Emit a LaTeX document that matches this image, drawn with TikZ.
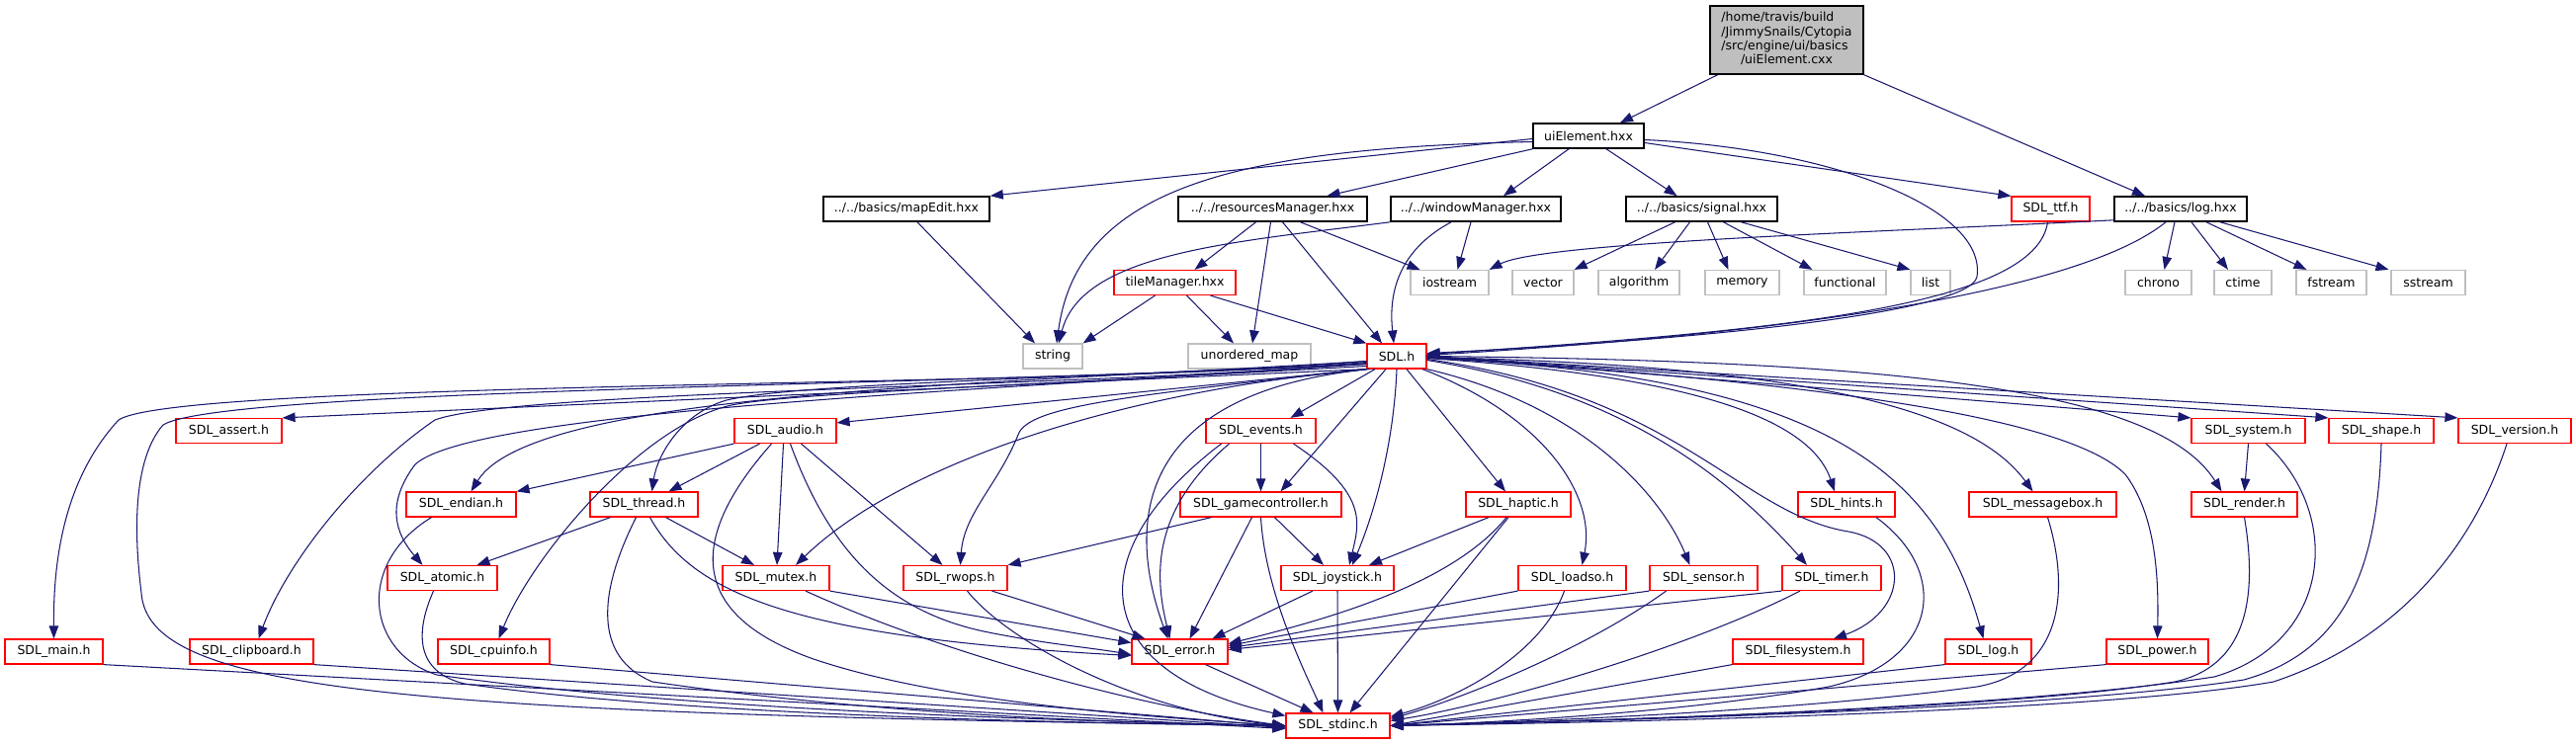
\documentclass[tikz,border=0pt]{standalone}
\usepackage{fontspec}
\setmainfont{DejaVu Sans}
\usetikzlibrary{arrows.meta}
\definecolor{edgeblue}{HTML}{191970}
\definecolor{leafgray}{HTML}{BFBFBF}
\begin{document}
\begin{tikzpicture}[x=1pt,y=-1pt,
  nd/.style={draw=black,line width=1.6pt,fill=white,minimum height=25pt,inner sep=0pt,font=\fontsize{12.5}{14.3}\selectfont},
  rd/.style={nd,draw=red,line width=1.2pt},
  gy/.style={nd,draw=leafgray,line width=1.2pt},
  inc/.style={draw=edgeblue,line width=1.05pt,-{Triangle[length=13pt,width=9.5pt]}}]
\fill[white] (0,0) rectangle (2606,753);
\useasboundingbox (0,0) rectangle (2606,753);
% nodes
\node[nd,fill=leafgray,minimum width=155pt,minimum height=69pt] (top) at (1807.5,40.5) {\begin{tabular}{@{}l@{}}/home/travis/build\\/JimmySnails/Cytopia\\/src/engine/ui/basics\\\multicolumn{1}{@{}c@{}}{/uiElement.cxx}\end{tabular}};
\node[nd,minimum width=112pt] (uiE) at (1607,137.5) {uiElement.hxx};
\node[nd,minimum width=168pt] (mapE) at (917,211.5) {../../basics/mapEdit.hxx};
\node[nd,minimum width=191pt] (resM) at (1287.5,211.5) {../../resourcesManager.hxx};
\node[nd,minimum width=172pt] (winM) at (1493,211.5) {../../windowManager.hxx};
\node[nd,minimum width=153pt] (sig) at (1721.5,211.5) {../../basics/signal.hxx};
\node[rd,minimum width=79pt] (ttf) at (2074.5,211.5) {SDL\_ttf.h};
\node[nd,minimum width=134pt] (logx) at (2206,211.5) {../../basics/log.hxx};
\node[rd,minimum width=123pt] (tileM) at (1188.5,286) {tileManager.hxx};
\node[gy,minimum width=79pt] (iost) at (1466.5,286) {iostream};
\node[gy,minimum width=62pt] (vect) at (1561,286) {vector};
\node[gy,minimum width=82pt] (algo) at (1658,286) {algorithm};
\node[gy,minimum width=75pt] (memo) at (1762.5,286) {memory};
\node[gy,minimum width=83pt] (func) at (1866.5,286) {functional};
\node[gy,minimum width=40pt] (lst) at (1953,286) {list};
\node[gy,minimum width=67pt] (chro) at (2183.5,286) {chrono};
\node[gy,minimum width=58pt] (ctim) at (2269,286) {ctime};
\node[gy,minimum width=71pt] (fstr) at (2358.5,286) {fstream};
\node[gy,minimum width=75pt] (sstr) at (2456.5,286) {sstream};
\node[gy,minimum width=60pt] (strg) at (1065,360.5) {string};
\node[gy,minimum width=124pt] (umap) at (1264,360.5) {unordered\_map};
\node[rd,minimum width=60pt] (sdl) at (1413,360.5) {SDL.h};
\node[rd,minimum width=107pt] (asrt) at (231.5,436) {SDL\_assert.h};
\node[rd,minimum width=103pt] (audio) at (794.5,436) {SDL\_audio.h};
\node[rd,minimum width=111pt] (evts) at (1275.5,436) {SDL\_events.h};
\node[rd,minimum width=115pt] (syst) at (2274.5,436) {SDL\_system.h};
\node[rd,minimum width=106pt] (shpe) at (2409,436) {SDL\_shape.h};
\node[rd,minimum width=114pt] (vers) at (2544,436) {SDL\_version.h};
\node[rd,minimum width=111pt] (endn) at (466.5,510.5) {SDL\_endian.h};
\node[rd,minimum width=109pt] (thrd) at (651.5,510.5) {SDL\_thread.h};
\node[rd,minimum width=163pt] (gctl) at (1275.5,510.5) {SDL\_gamecontroller.h};
\node[rd,minimum width=106pt] (hapt) at (1536,510.5) {SDL\_haptic.h};
\node[rd,minimum width=98pt] (hint) at (1868,510.5) {SDL\_hints.h};
\node[rd,minimum width=149pt] (mbox) at (2066.5,510.5) {SDL\_messagebox.h};
\node[rd,minimum width=107pt] (rend) at (2270.5,510.5) {SDL\_render.h};
\node[rd,minimum width=111pt] (atom) at (447.5,585) {SDL\_atomic.h};
\node[rd,minimum width=108pt] (mutx) at (785,585) {SDL\_mutex.h};
\node[rd,minimum width=105pt] (rwop) at (966.5,585) {SDL\_rwops.h};
\node[rd,minimum width=114pt] (joys) at (1353,585) {SDL\_joystick.h};
\node[rd,minimum width=109pt] (lodso) at (1590.5,585) {SDL\_loadso.h};
\node[rd,minimum width=109pt] (sens) at (1723.5,585) {SDL\_sensor.h};
\node[rd,minimum width=100pt] (timr) at (1853,585) {SDL\_timer.h};
\node[rd,minimum width=99pt] (mainh) at (54.5,659.5) {SDL\_main.h};
\node[rd,minimum width=125pt] (clip) at (254.5,659.5) {SDL\_clipboard.h};
\node[rd,minimum width=113pt] (cpui) at (499.5,659.5) {SDL\_cpuinfo.h};
\node[rd,minimum width=97pt] (err) at (1193.5,659.5) {SDL\_error.h};
\node[rd,minimum width=132pt] (fsys) at (1819,659.5) {SDL\_filesystem.h};
\node[rd,minimum width=87pt] (slog) at (2011.5,659.5) {SDL\_log.h};
\node[rd,minimum width=103pt] (powr) at (2182.5,659.5) {SDL\_power.h};
\node[rd,minimum width=105pt] (stdc) at (1353.5,734.5) {SDL\_stdinc.h};
% top edges
\draw[inc] ([xshift=-70pt]top.south) -- ([xshift=32pt]uiE.north);
\draw[inc] (top.south east) -- ([xshift=-36pt]logx.north);
% uiElement.hxx
\draw[inc] ([yshift=-3pt]uiE.west) -- (mapE.north east);
\draw[inc] ([yshift=-6pt]uiE.west) .. controls (1250,150) and (1090,190) .. ([xshift=4pt]strg.north);
\draw[inc] (uiE.south west) -- ([xshift=55pt]resM.north);
\draw[inc] ([xshift=-20pt]uiE.south) -- ([xshift=28pt]winM.north);
\draw[inc] ([xshift=18pt]uiE.south) -- ([xshift=-25pt]sig.north);
\draw[inc] ([yshift=-7pt]uiE.east) -- (ttf.north west);
\draw[inc] ([yshift=-4pt]uiE.east) .. controls (1850,150) and (2010,210) .. (2000,280) .. controls (1993,318) and (1700,345) .. ([yshift=3pt]sdl.east);
% ttf, log
\draw[inc] ([xshift=-3pt]ttf.south) .. controls (2060,310) and (1800,335) .. ([yshift=2pt]sdl.east);
\draw[inc] ([xshift=-15pt]logx.south) .. controls (2110,290) and (1850,335) .. ([yshift=1pt]sdl.east);
\draw[inc] ([yshift=2pt]logx.south west) .. controls (1900,235) and (1560,245) .. (iost.north east);
\draw[inc] ([xshift=-6pt]logx.south) -- ([xshift=6pt]chro.north);
\draw[inc] ([xshift=11pt]logx.south) -- ([xshift=-15pt]ctim.north);
\draw[inc] ([xshift=26pt]logx.south) -- ([xshift=-25pt]fstr.north);
\draw[inc] ([xshift=40pt]logx.south) -- ([xshift=-40pt]sstr.north);
% windowManager
\draw[inc] ([xshift=-5pt]winM.south) -- ([xshift=8pt]iost.north);
\draw[inc] ([xshift=-25pt]winM.south) .. controls (1412,255) and (1405,300) .. ([xshift=-3pt]sdl.north);
\draw[inc] (winM.south west) .. controls (1250,245) and (1095,255) .. ([xshift=6pt]strg.north);
% resourcesManager
\draw[inc] ([xshift=-17pt]resM.south) -- ([xshift=20pt]tileM.north);
\draw[inc] ([xshift=-2pt]resM.south) -- ([xshift=3pt]umap.north);
\draw[inc] ([xshift=10pt]resM.south) -- ([xshift=-15pt]sdl.north);
\draw[inc] ([xshift=28pt]resM.south) -- ([xshift=-30pt]iost.north);
% tileManager, mapEdit
\draw[inc] ([xshift=-20pt]tileM.south) -- (strg.north east);
\draw[inc] ([xshift=12pt]tileM.south) -- ([xshift=-16pt]umap.north);
\draw[inc] ([xshift=36pt]tileM.south) -- (sdl.north west);
\draw[inc] ([xshift=11pt]mapE.south) -- ([xshift=-18pt]strg.north);
% signal
\draw[inc] ([xshift=-27pt]sig.south) -- (vect.north east);
\draw[inc] ([xshift=-12pt]sig.south) -- ([xshift=16pt]algo.north);
\draw[inc] ([xshift=6pt]sig.south) -- ([xshift=-14pt]memo.north);
\draw[inc] ([xshift=22pt]sig.south) -- ([xshift=-33pt]func.north);
\draw[inc] ([xshift=40pt]sig.south) -- (lst.north west);
% SDL.h to the left
\draw[inc] (sdl.south west) -- (asrt.north east);
\draw[inc] (sdl.south west) -- ([yshift=-5pt]audio.north east);
\draw[inc] ([yshift=-6pt]sdl.west) .. controls (1100,392) and (180,385) .. (120,425) .. controls (60,490) and (54,580) .. (mainh.north);
\draw[inc] ([yshift=-5pt]sdl.west) .. controls (1100,390) and (230,390) .. (165,430) .. controls (130,470) and (138,560) .. (143,600) .. controls (150,700) and (400,722) .. (stdc.west);
\draw[inc] ([yshift=-7pt]sdl.west) .. controls (1100,392) and (520,395) .. (440,425) .. controls (360,480) and (290,570) .. ([xshift=7pt]clip.north);
\draw[inc] ([yshift=-5pt]sdl.west) .. controls (1000,390) and (540,395) .. ([xshift=10pt]endn.north);
\draw[inc] ([yshift=-8pt]sdl.west) .. controls (1000,395) and (480,415) .. (420,470) .. controls (390,510) and (400,540) .. ([xshift=-20pt]atom.north);
\draw[inc] ([yshift=-8pt]sdl.west) .. controls (1000,385) and (800,390) .. (735,405) .. controls (690,418) and (665,460) .. ([xshift=8pt]thrd.north);
\draw[inc] ([yshift=-10pt]sdl.west) .. controls (1000,392) and (800,398) .. (740,410) .. controls (650,430) and (540,560) .. ([xshift=5pt]cpui.north);
\draw[inc] (sdl.south west) .. controls (1100,400) and (900,480) .. ([xshift=20pt]mutx.north);
\draw[inc] (sdl.south west) .. controls (1150,400) and (1040,410) .. (1030,440) .. controls (1010,490) and (975,520) .. ([xshift=5pt]rwop.north);
\draw[inc] ([xshift=3pt]sdl.south west) .. controls (1120,400) and (1150,560) .. ([xshift=-12pt]err.north);
% SDL.h downwards
\draw[inc] ([xshift=-22pt]sdl.south) -- ([xshift=30pt]evts.north);
\draw[inc] ([xshift=-11pt]sdl.south) -- ([xshift=20pt]gctl.north);
\draw[inc] (sdl.south) .. controls (1410,450) and (1390,520) .. ([xshift=15pt]joys.north);
\draw[inc] ([xshift=10pt]sdl.south) -- ([xshift=-13pt]hapt.north);
\draw[inc] ([xshift=26pt]sdl.south) .. controls (1560,420) and (1615,500) .. ([xshift=10pt]lodso.north);
\draw[inc] (sdl.south east) .. controls (1600,410) and (1680,500) .. ([xshift=-14pt]sens.north);
% SDL.h to the right
\draw[inc] ([yshift=-4pt]sdl.east) .. controls (1600,390) and (1720,450) .. ([xshift=-25pt]timr.north);
\draw[inc] ([yshift=-3pt]sdl.east) .. controls (1700,400) and (1760,520) .. (1870,538) .. controls (1935,550) and (1930,620) .. ([xshift=36pt]fsys.north);
\draw[inc] ([yshift=-2pt]sdl.east) .. controls (1850,380) and (1960,480) .. ([xshift=-5pt]slog.north);
\draw[inc] ([yshift=-2pt]sdl.east) .. controls (1700,380) and (1830,420) .. ([xshift=-12pt]hint.north);
\draw[inc] ([yshift=-1pt]sdl.east) .. controls (1850,370) and (2000,420) .. ([xshift=-10pt]mbox.north);
\draw[inc] ([yshift=-1pt]sdl.east) .. controls (1900,390) and (2100,430) .. (2150,480) .. controls (2180,520) and (2184,580) .. (powr.north);
\draw[inc] (sdl.east) .. controls (1900,365) and (2180,390) .. ([xshift=-23pt]rend.north);
\draw[inc] (sdl.east) -- (syst.north west);
\draw[inc] (sdl.east) -- (shpe.north west);
\draw[inc] (sdl.east) -- (vers.north west);
% audio
\draw[inc] (audio.south west) -- (endn.north east);
\draw[inc] ([xshift=-26pt]audio.south) -- ([xshift=25pt]thrd.north);
\draw[inc] ([xshift=-2pt]audio.south) -- ([xshift=1pt]mutx.north);
\draw[inc] ([xshift=16pt]audio.south) -- ([xshift=-13pt]rwop.north);
\draw[inc] ([xshift=-14pt]audio.south) .. controls (700,540) and (690,620) .. (823,667) .. controls (950,710) and (1150,725) .. (stdc.west);
\draw[inc] ([xshift=5pt]audio.south) .. controls (840,560) and (900,620) .. (1000,640) .. controls (1060,652) and (1100,655) .. ([yshift=-3pt]err.west);
% endian, thread, atomic
\draw[inc] ([xshift=-30pt]endn.south) .. controls (360,570) and (370,660) .. (442,683) .. controls (700,720) and (1100,730) .. (stdc.west);
\draw[inc] ([xshift=-34pt]thrd.south) -- ([xshift=35pt]atom.north);
\draw[inc] ([xshift=22pt]thrd.south) -- ([xshift=-22pt]mutx.north);
\draw[inc] ([xshift=6pt]thrd.south) .. controls (700,600) and (800,645) .. ([yshift=-4pt]err.west);
\draw[inc] ([xshift=-8pt]thrd.south) .. controls (605,600) and (600,665) .. (660,690) .. controls (900,725) and (1150,732) .. (stdc.west);
\draw[inc] ([xshift=-9pt]atom.south) .. controls (420,640) and (420,680) .. (470,692) .. controls (700,725) and (1100,732) .. (stdc.west);
% mutex, rwops
\draw[inc] (mutx.south east) -- ([yshift=9pt]err.west);
\draw[inc] ([xshift=30pt]mutx.south) .. controls (950,660) and (1150,715) .. (stdc.west);
\draw[inc] ([xshift=37pt]rwop.south) -- ([xshift=-35pt]err.north);
\draw[inc] ([xshift=12pt]rwop.south) .. controls (1020,650) and (1150,720) .. (stdc.west);
% events, gamecontroller
\draw[inc] (evts.south) -- (gctl.north);
\draw[inc] ([xshift=33pt]evts.south) .. controls (1385,500) and (1375,530) .. ([xshift=12pt]joys.north);
\draw[inc] ([xshift=-32pt]evts.south) .. controls (1160,520) and (1170,590) .. ([xshift=-10pt]err.north);
\draw[inc] ([xshift=-40pt]evts.south) .. controls (1090,560) and (1100,680) .. ([yshift=-3pt]stdc.north west);
\draw[inc] ([xshift=-50pt]gctl.south) -- (rwop.north east);
\draw[inc] ([xshift=14pt]gctl.south) -- ([xshift=-14pt]joys.north);
\draw[inc] ([xshift=-9pt]gctl.south) -- ([xshift=10pt]err.north);
\draw[inc] (gctl.south) .. controls (1280,600) and (1320,680) .. ([xshift=-15pt]stdc.north);
% haptic, joystick
\draw[inc] ([xshift=-30pt]hapt.south) -- ([xshift=32pt]joys.north);
\draw[inc] ([xshift=-12pt]hapt.south) .. controls (1470,590) and (1350,625) .. ([yshift=8pt]err.east);
\draw[inc] ([xshift=-10pt]hapt.south) -- ([xshift=12pt]stdc.north);
\draw[inc] ([xshift=-25pt]joys.south) -- ([xshift=33pt]err.north);
\draw[inc] (joys.south) -- (stdc.north);
% loadso, sensor, timer
\draw[inc] (lodso.south west) -- ([yshift=6pt]err.east);
\draw[inc] ([xshift=-8pt]lodso.south) .. controls (1560,660) and (1480,705) .. ([yshift=-4pt]stdc.north east);
\draw[inc] (sens.south west) -- ([yshift=4pt]err.east);
\draw[inc] ([xshift=-38pt]sens.south) .. controls (1600,660) and (1470,710) .. ([yshift=-6pt]stdc.north east);
\draw[inc] (timr.south west) -- ([yshift=2pt]err.east);
\draw[inc] ([xshift=-32pt]timr.south) .. controls (1700,660) and (1500,715) .. ([yshift=-8pt]stdc.north east);
% error
\draw[inc] ([xshift=26pt]err.south) -- ([xshift=-25pt]stdc.north);
% bottom row to stdinc
\draw[inc] (mainh.south east) -- ([yshift=-3pt]stdc.west);
\draw[inc] (clip.south east) -- ([yshift=-2pt]stdc.west);
\draw[inc] (cpui.south east) -- ([yshift=-1pt]stdc.west);
\draw[inc] (fsys.south west) -- (stdc.east);
\draw[inc] (slog.south west) -- (stdc.east);
\draw[inc] (powr.south west) -- (stdc.east);
\draw[inc] ([xshift=30pt]hint.south) .. controls (1975,580) and (1960,670) .. (1850,695) .. controls (1700,722) and (1500,732) .. (stdc.east);
\draw[inc] ([xshift=5pt]mbox.south) .. controls (2095,600) and (2085,680) .. (2000,695) .. controls (1800,722) and (1500,732) .. (stdc.east);
\draw[inc] (rend.south) .. controls (2285,610) and (2270,675) .. (2200,690) .. controls (2000,722) and (1500,732) .. (stdc.east);
\draw[inc] ([xshift=18pt]syst.south) .. controls (2370,520) and (2360,650) .. (2240,685) .. controls (2000,722) and (1500,732) .. (stdc.east);
\draw[inc] (shpe.south) .. controls (2405,580) and (2370,660) .. (2270,688) .. controls (2050,722) and (1500,732) .. (stdc.east);
\draw[inc] ([xshift=-8pt]vers.south) .. controls (2500,560) and (2420,650) .. (2300,690) .. controls (2100,725) and (1500,733) .. (stdc.east);
\draw[inc] (syst.south) -- (rend.north);
\end{tikzpicture}
\end{document}
